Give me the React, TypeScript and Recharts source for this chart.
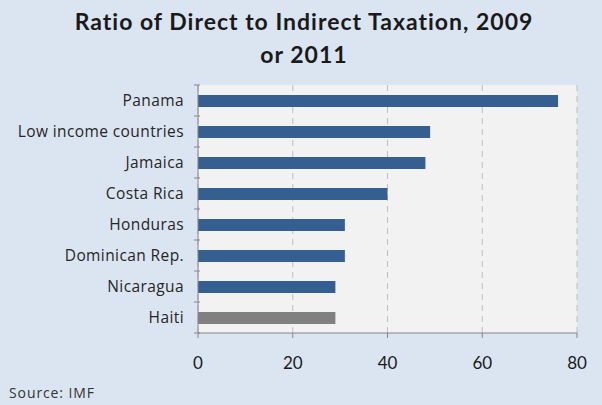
import React from "react";
import {
  BarChart,
  Bar,
  XAxis,
  YAxis,
  CartesianGrid,
  Cell,
} from "recharts";

const countries = [
  "Panama",
  "Low income countries",
  "Jamaica",
  "Costa Rica",
  "Honduras",
  "Dominican Rep.",
  "Nicaragua",
  "Haiti",
];
const ratios = [76, 49, 48, 40, 31, 31, 29, 29];
const xTicks = [0, 20, 40, 60, 80];
const highlight = "Haiti";

const data = countries.map((name, i) => ({ name, ratio: ratios[i] }));

const W = 602;
const H = 405;
const xAxisHeight = 30;
const margin = { top: 85, right: 25, bottom: 42, left: 0 };
const band = (H - margin.top - margin.bottom - xAxisHeight) / countries.length;

const CategoryTick = (props: any) => {
  const { x, y, payload, index } = props;
  return (
    <g>
      <line x1={x + 4} x2={x + 10} y1={y - band / 2} y2={y - band / 2} stroke="#868686" />
      {index === countries.length - 1 && (
        <line x1={x + 4} x2={x + 10} y1={y + band / 2} y2={y + band / 2} stroke="#868686" />
      )}
      <text
        x={x - 6}
        y={y}
        dy={5}
        textAnchor="end"
        fontSize={15.5}
        letterSpacing={0.4}
        fill="#262626"
        fontFamily="Open Sans"
      >
        {payload.value}
      </text>
    </g>
  );
};

export default function App() {
  return (
    <div
      style={{
        position: "absolute",
        left: 0,
        top: 0,
        width: W,
        height: H,
        background: "#dbe5f1",
        fontFamily: "Lato, sans-serif",
        overflow: "hidden",
      }}
    >
      <div
        style={{
          position: "absolute",
          top: 5,
          left: 0,
          width: W,
          textAlign: "center",
          fontWeight: "bold",
          fontSize: 23,
          letterSpacing: 1,
          lineHeight: "33px",
          color: "#1a1a1a",
          paddingLeft: 6,
          boxSizing: "border-box",
        }}
      >
        Ratio of Direct to Indirect Taxation, 2009
        <br />
        or 2011
      </div>
      <BarChart
        width={W}
        height={H}
        data={data}
        layout="vertical"
        margin={margin}
        barSize={12}
      >
        <CartesianGrid
          horizontal={false}
          fill="#f2f2f2"
          stroke="#bfbfbf"
          strokeDasharray="6 5"
        />
        <XAxis
          type="number"
          domain={[0, 80]}
          ticks={xTicks}
          interval={0}
          height={xAxisHeight}
          stroke="#868686"
          tickSize={5}
          tick={{ fill: "#1a1a1a", fontSize: 17, fontFamily: "Lato" }}
          tickMargin={19}
        />
        <YAxis
          type="category"
          dataKey="name"
          width={198}
          stroke="#868686"
          tickLine={false}
          interval={0}
          tick={<CategoryTick />}
        />
        <Bar dataKey="ratio" isAnimationActive={false}>
          {data.map((d) => (
            <Cell
              key={d.name}
              fill={d.name === highlight ? "#808080" : "#355f91"}
            />
          ))}
        </Bar>
      </BarChart>
      <div
        style={{
          position: "absolute",
          left: 9,
          top: 383,
          fontSize: 14,
          letterSpacing: 0.9,
          fontFamily: "Open Sans",
          color: "#333",
        }}
      >
        Source: IMF
      </div>
    </div>
  );
}
